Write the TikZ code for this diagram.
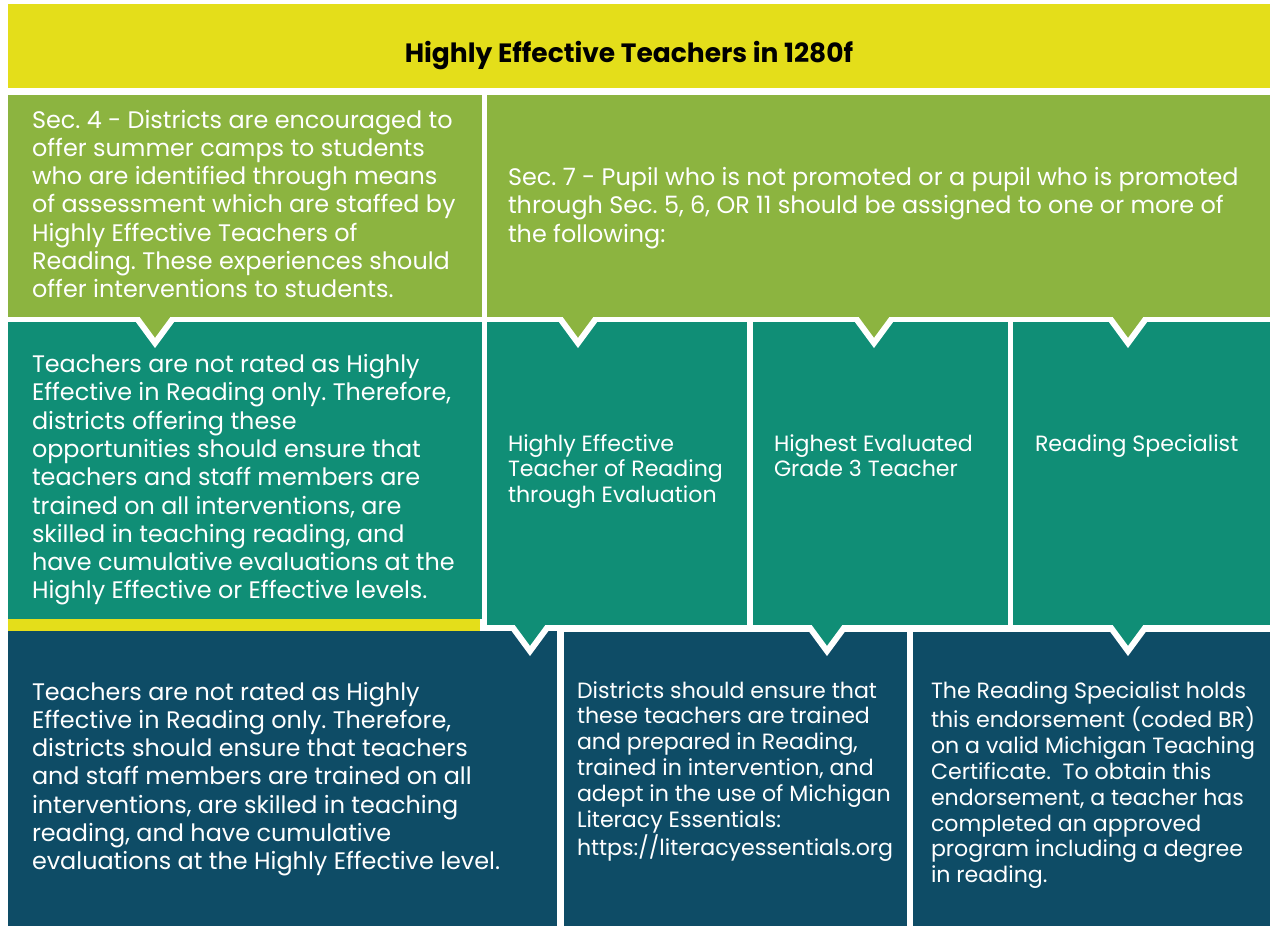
\documentclass[tikz,border=0pt]{standalone}
\usepackage{fontspec}
\setmainfont{Poppins}
\frenchspacing
\definecolor{hetyellow}{HTML}{E4DE1A}
\definecolor{hetgreen}{HTML}{8CB440}
\definecolor{hetteal}{HTML}{108E76}
\definecolor{hetblue}{HTML}{0E4C66}
\newcommand\bigtxt{\fontsize{23.9}{28.3}\selectfont}
\newcommand\smalltxt{\fontsize{22.1}{25.9}\selectfont}
\newcommand\notch[3]{\filldraw[fill=#3, draw=white, line width=6pt]
	({#1-25},{#2-8}) -- (#1,{#2+26}) -- ({#1+25},{#2-8});}
\tikzset{x=1pt, y=-1pt,
	every node/.style={inner sep=0pt, outer sep=0pt},
	boxtext/.style={anchor=north west, align=left, text=white, font=\bigtxt},
	coltext/.style={boxtext, font=\smalltxt},
	}

\begin{document}
\begin{tikzpicture}
	\useasboundingbox[fill=white] (0,0) rectangle (1270,926);
	% bottom row
	\fill[hetblue] (8,631) rectangle (557,926);
	\fill[hetblue] (564,632) rectangle (907,926);
	\fill[hetblue] (913,632) rectangle (1270,926);
	\notch{530}{625}{hetteal}
	\notch{827}{625}{hetteal}
	\notch{1128}{625}{hetteal}
	% middle row
	\fill[hetteal] (8,322) rectangle (482,619);
	\fill[hetyellow] (8,619) rectangle (480,631);
	\fill[hetteal] (487,322) rectangle (747,625);
	\fill[hetteal] (753,322) rectangle (1008,625);
	\fill[hetteal] (1013,322) rectangle (1270,625);
	\notch{155}{317}{hetgreen}
	\notch{578}{317}{hetgreen}
	\notch{874}{317}{hetgreen}
	\notch{1128}{317}{hetgreen}
	% top rows
	\fill[hetgreen] (8,95) rectangle (482,317);
	\fill[hetgreen] (487,95) rectangle (1270,317);
	\fill[hetyellow] (8,4) rectangle (1270,88);

	\node[anchor=base, font=\fontsize{26.5}{30}\selectfont\bfseries] (title) at (629,62)
		{Highly Effective Teachers in 1280f};
	\node[boxtext] (sec4) at (32,108.2) {\strut Sec. 4 - Districts are encouraged to\\
		offer summer camps to students\\ who are identified through means\\
		of assessment which are staffed by\\ Highly Effective Teachers of\\
		Reading. These experiences should\\ offer interventions to students.};
	\node[boxtext] (sec7) at (508,165.7) {\strut Sec. 7 - Pupil who is not promoted or a pupil who is promoted\\
		through Sec. 5, 6, OR 11 should be assigned to one or more of\\ the following:};
	\node[boxtext] (camps) at (32,352.7) {\strut Teachers are not rated as Highly\\
		Effective in Reading only. Therefore,\\ districts offering these\\
		opportunities should ensure that\\ teachers and staff members are\\
		trained on all interventions, are\\ skilled in teaching reading, and\\
		have cumulative evaluations at the\\ Highly Effective or Effective levels.};
	\node[coltext] (hetr) at (508,432.9) {\strut Highly Effective\\ Teacher of Reading\\ through Evaluation};
	\node[coltext] (grade3) at (774,432.9) {\strut Highest Evaluated\\ Grade 3 Teacher};
	\node[coltext] (spec) at (1035,432.9) {\strut Reading Specialist};
	\node[boxtext] (assign) at (32,680.2) {\strut Teachers are not rated as Highly\\
		Effective in Reading only. Therefore,\\ districts should ensure that teachers\\
		and staff members are trained on all\\ interventions, are skilled in teaching\\
		reading, and have cumulative\\ evaluations at the Highly Effective level.};
	\node[coltext] (ensure) at (577,679.9) {\strut Districts should ensure that\\
		these teachers are trained\\ and prepared in Reading,\\ trained in intervention, and\\
		adept in the use of Michigan\\ Literacy Essentials:\\ https://literacyessentials.org};
	\node[coltext] (holds) at (931,679.9) {\strut The Reading Specialist holds\\
		this endorsement (coded BR)\\ on a valid Michigan Teaching\\
		Certificate.\ \ To obtain this\\ endorsement, a teacher has\\
		completed an approved\\ program including a degree\\ in reading.};
\end{tikzpicture}
\end{document}
